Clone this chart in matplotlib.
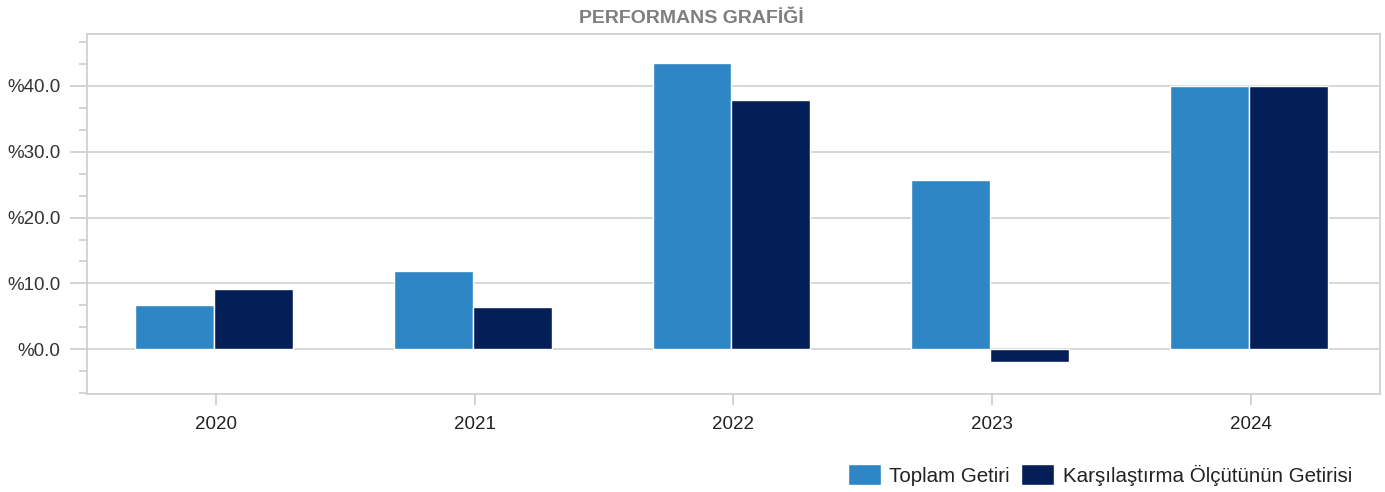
import matplotlib
matplotlib.use("Agg")
import matplotlib.pyplot as plt
import numpy as np
from matplotlib.ticker import MultipleLocator, FuncFormatter

plt.rcParams['font.family'] = ['Liberation Sans', 'DejaVu Sans']

years = ["2020", "2021", "2022", "2023", "2024"]
toplam_getiri = [6.7, 11.9, 43.5, 25.7, 40.0]
karsilastirma = [9.1, 6.4, 37.9, -2.0, 40.0]
series_names = ["Toplam Getiri", "Karşılaştırma Ölçütünün Getirisi"]
colors = ["#2e86c4", "#041e57"]
title = "PERFORMANS GRAFİĞİ"

fig = plt.figure(figsize=(13.85, 4.92), dpi=100)
ax = fig.add_axes([0.0628, 0.1992, 0.9336, 0.7317])

x = np.arange(len(years))
w = 0.305
b1 = ax.bar(x - w / 2 - 0.008, toplam_getiri, width=w, color=colors[0], edgecolor="white", linewidth=1, label=series_names[0], zorder=3)
b2 = ax.bar(x + w / 2 - 0.008, karsilastirma, width=w, color=colors[1], edgecolor="white", linewidth=1, label=series_names[1], zorder=3)

ax.set_xlim(-0.5, 4.5)
ax.set_ylim(-6.8, 47.9)
ax.yaxis.set_major_locator(MultipleLocator(10))
ax.yaxis.set_minor_locator(MultipleLocator(10 / 3))
ax.yaxis.set_major_formatter(FuncFormatter(lambda v, p: "%" + f"{v:.1f}"))
ax.set_xticks(x)
ax.set_xticklabels(years)
ax.grid(axis="y", which="major", color="#d4d4d4", linewidth=1.3, zorder=0)
for s in ax.spines.values():
    s.set_color("#d0d0d0")
    s.set_linewidth(1.3)
ax.tick_params(axis="y", which="major", length=12, color="#d0d0d0", width=1.3, labelsize=13.5, labelcolor="#333333", pad=7)
ax.tick_params(axis="y", which="minor", length=6, color="#d0d0d0", width=1.3)
ax.tick_params(axis="x", which="major", length=8, color="#d0d0d0", width=1.3, labelsize=13.5, labelcolor="#222222", pad=8)

fig.text(0.499, 0.962, title, ha="center", va="center", fontsize=14, fontweight="bold", color="#7f7f7f")

fig.legend(handles=[b1, b2], labels=series_names, loc="center right", bbox_to_anchor=(0.976, 0.035), ncol=2,
           frameon=False, fontsize=14.8, handlelength=1.6, handleheight=1.2, handletextpad=0.4, columnspacing=0.55,
           labelcolor="#222222", borderaxespad=0, borderpad=0)

fig.savefig("out.png", dpi=100)
